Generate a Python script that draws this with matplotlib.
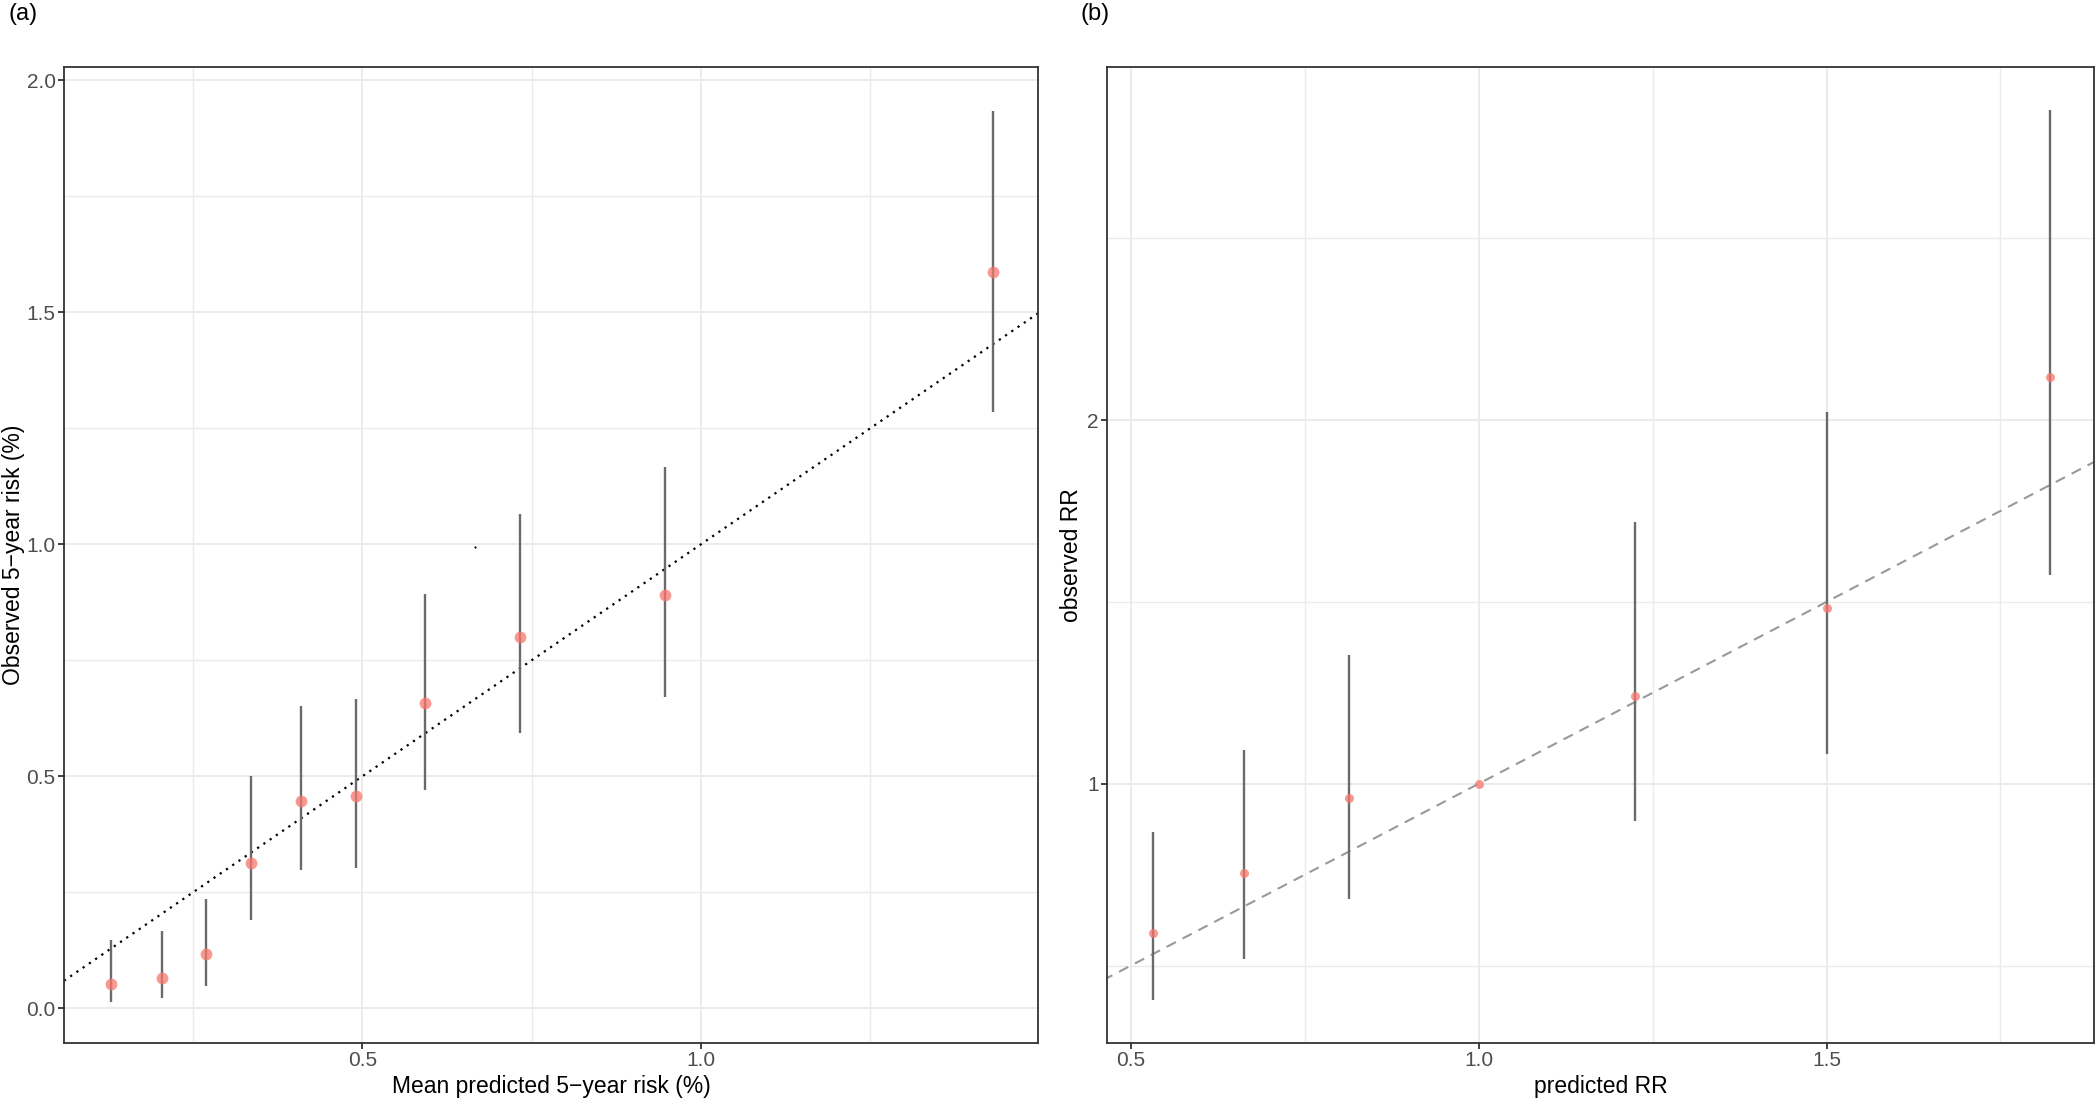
import numpy as np
import matplotlib
matplotlib.use("Agg")
from matplotlib import pyplot as plt
from matplotlib.ticker import FixedLocator, NullFormatter

plt.rcParams['font.family'] = ['Liberation Sans Narrow', 'Liberation Sans', 'DejaVu Sans']

# panel (a) data: calibration by decile
pred_a = [0.128, 0.204, 0.269, 0.336, 0.409, 0.490, 0.593, 0.733, 0.947, 1.431]
obs_a = [0.052, 0.066, 0.118, 0.314, 0.447, 0.458, 0.657, 0.801, 0.890, 1.588]
lo_a = [0.014, 0.023, 0.049, 0.190, 0.297, 0.303, 0.470, 0.594, 0.671, 1.285]
hi_a = [0.147, 0.167, 0.236, 0.501, 0.651, 0.666, 0.893, 1.066, 1.167, 1.934]

# panel (b) data: relative risk
pred_b = [0.531, 0.662, 0.813, 1.000, 1.225, 1.500, 1.821]
obs_b = [0.752, 0.843, 0.973, 1.000, 1.183, 1.397, 2.170]
lo_b = [0.662, 0.716, 0.803, 1.000, 0.931, 1.058, 1.488]
hi_b = [0.912, 1.066, 1.277, 1.000, 1.648, 2.031, 3.610]

W, H = 2097, 1102
fig = plt.figure(figsize=(W / 100, H / 100), dpi=100)

grid_col = "#EBEBEB"
pt_col = "#F8766D"
bar_col = "#6A6A6A"


def style(ax):
    for s in ax.spines.values():
        s.set_color("#333333")
        s.set_linewidth(1.3)
    ax.tick_params(which="major", length=4, width=1.3, color="#333333",
                   labelsize=15, labelcolor="#4D4D4D", pad=2)
    ax.tick_params(which="minor", length=0)
    ax.grid(which="major", color=grid_col, lw=1.4, zorder=0)
    ax.grid(which="minor", color=grid_col, lw=1.0, zorder=0)
    ax.set_axisbelow(True)


# ---- panel (a)
ax1 = fig.add_axes([64 / W, 1 - 1043 / H, (1038 - 64) / W, (1043 - 67) / H])
style(ax1)
ax1.set_xlim(0.0593, 1.498)
ax1.set_ylim(-0.0749, 2.029)
ax1.xaxis.set_major_locator(FixedLocator([0.5, 1.0]))
ax1.xaxis.set_minor_locator(FixedLocator([0.25, 0.75, 1.25]))
ax1.yaxis.set_major_locator(FixedLocator([0.0, 0.5, 1.0, 1.5, 2.0]))
ax1.yaxis.set_minor_locator(FixedLocator([0.25, 0.75, 1.25, 1.75]))
ax1.set_xticklabels(["0.5", "1.0"])
ax1.set_yticklabels(["0.0", "0.5", "1.0", "1.5", "2.0"])
ax1.axline((0, 0), (1, 1), color="black", lw=1.6, linestyle=(0, (1, 2.4)), zorder=2)
ax1.vlines(pred_a, lo_a, hi_a, color=bar_col, lw=1.7, zorder=3)
ax1.plot(pred_a, obs_a, "o", color=pt_col, alpha=0.75, ms=8.5, mec="none", zorder=4)
ax1.plot([0.666], [0.994], "o", color="black", ms=1.6, mec="none", zorder=4)
ax1.set_xlabel("Mean predicted 5\u2212year risk (%)", fontsize=16.5, labelpad=3)
ax1.set_ylabel("Observed 5\u2212year risk (%)", fontsize=16.5, va="center")
ax1.yaxis.set_label_coords((14 - 64) / 974, 0.5)

# ---- panel (b)
ax2 = fig.add_axes([1107 / W, 1 - 1043 / H, (2094 - 1107) / W, (1043 - 67) / H])
ax2.set_yscale("log", base=2)
style(ax2)
ax2.set_xlim(0.4654, 1.8846)
ax2.set_ylim(0.610, 3.92)
ax2.xaxis.set_major_locator(FixedLocator([0.5, 1.0, 1.5]))
ax2.xaxis.set_minor_locator(FixedLocator([0.75, 1.25, 1.75]))
ax2.yaxis.set_major_locator(FixedLocator([1, 2]))
ax2.yaxis.set_minor_locator(FixedLocator([2 ** -0.5, 2 ** 0.5, 2 ** 1.5]))
ax2.yaxis.set_minor_formatter(NullFormatter())
ax2.set_xticklabels(["0.5", "1.0", "1.5"])
ax2.set_yticklabels(["1", "2"])
ref_x = np.array([0.3, 2.0])
ax2.plot(ref_x, 2 ** (ref_x - 1), color="#999999", lw=1.5, linestyle=(0, (5, 3.6)), zorder=2)
ax2.vlines(pred_b, lo_b, hi_b, color=bar_col, lw=1.7, zorder=3)
ax2.plot(pred_b, obs_b, "o", color=pt_col, alpha=0.75, ms=6.5, mec="none", zorder=4)
ax2.set_xlabel("predicted RR", fontsize=16.5, labelpad=3)
ax2.set_ylabel("observed RR", fontsize=16.5, va="center")
ax2.yaxis.set_label_coords((1071 - 1107) / 987, 0.5)

fig.text(8 / W, 1 - 3 / H, "(a)", fontsize=17, family=["Liberation Sans", "DejaVu Sans"], va="top", ha="left")
fig.text(1080 / W, 1 - 3 / H, "(b)", fontsize=17, family=["Liberation Sans", "DejaVu Sans"], va="top", ha="left")

fig.savefig("out.png", dpi=100)
